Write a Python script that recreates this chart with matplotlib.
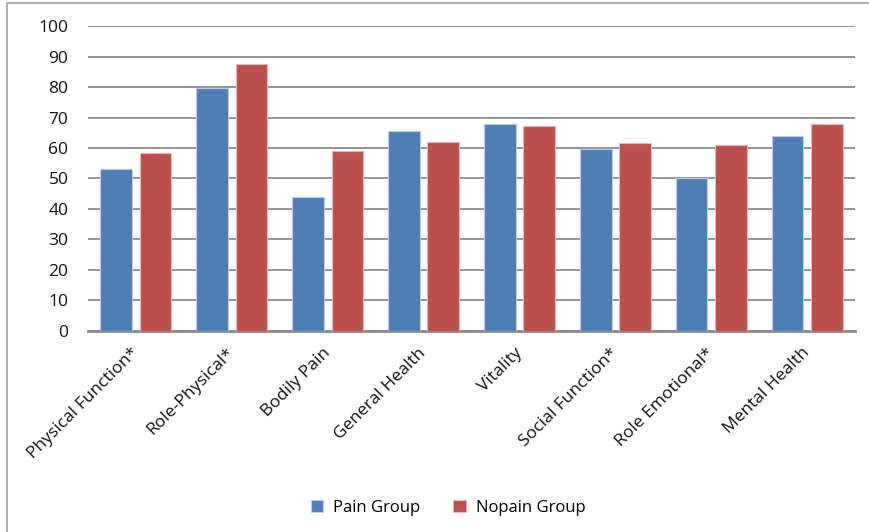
import matplotlib
matplotlib.use("Agg")
import matplotlib.pyplot as plt
import numpy as np
from matplotlib.patches import Rectangle
import matplotlib.transforms as mtransforms

categories = ["Physical Function*", "Role-Physical*", "Bodily Pain", "General Health",
              "Vitality", "Social Function*", "Role Emotional*", "Mental Health"]
pain_group = [53.0, 79.6, 44.0, 65.5, 68.0, 59.6, 50.0, 64.1]
nopain_group = [58.5, 87.6, 59.1, 62.0, 67.2, 61.5, 61.1, 68.0]
yticks = list(range(0, 101, 10))

plt.rcParams['font.family'] = ['Open Sans', 'DejaVu Sans']

fig = plt.figure(figsize=(8.7, 5.32), dpi=100)
ax = fig.add_axes([0.101, 0.378, 0.882, 0.573])

x = np.arange(len(categories))
w = 0.33
blue = "#4f7db5"
red = "#bb4f4c"
ax.bar(x - 0.205, pain_group, w, color=blue, edgecolor="#b8cce4", linewidth=0.8,
       label="Pain Group", zorder=3)
ax.bar(x + 0.205, nopain_group, w, color=red, edgecolor="#e6b9b8", linewidth=0.8,
       label="Nopain Group", zorder=3)

ax.set_xlim(-0.5, len(categories) - 0.5)
ax.set_ylim(0, 100)
ax.set_yticks(yticks)
ax.yaxis.grid(True, color="#8a8a8a", linewidth=1.3, zorder=0)
ax.set_axisbelow(True)
for s in ["top", "right", "left"]:
    ax.spines[s].set_visible(False)
ax.spines["bottom"].set_color("#8a8a8a")
ax.spines["bottom"].set_linewidth(2)
ax.tick_params(axis="y", length=0, pad=14, labelsize=12.5, colors="#111111")
ax.tick_params(axis="x", length=0, pad=10, labelsize=12.5, colors="#111111")
ax.set_xticks(x)
ax.set_xticklabels(categories, rotation=45, ha="right", rotation_mode="anchor")
offset = mtransforms.ScaledTranslation(-4/72, 0, fig.dpi_scale_trans)
for lbl in ax.get_xticklabels():
    lbl.set_transform(lbl.get_transform() + offset)

leg = fig.legend(loc="center", bbox_to_anchor=(0.515, 0.045), ncol=2, frameon=False,
                 fontsize=12, handlelength=0.75, handleheight=0.75, columnspacing=2.0,
                 handletextpad=0.6)

fig.patches.append(Rectangle((0.008, -0.05), 1.1, 1.044, transform=fig.transFigure,
                             fill=False, edgecolor="#a0a0a0", linewidth=1.2))

fig.savefig("out.png", dpi=100)
